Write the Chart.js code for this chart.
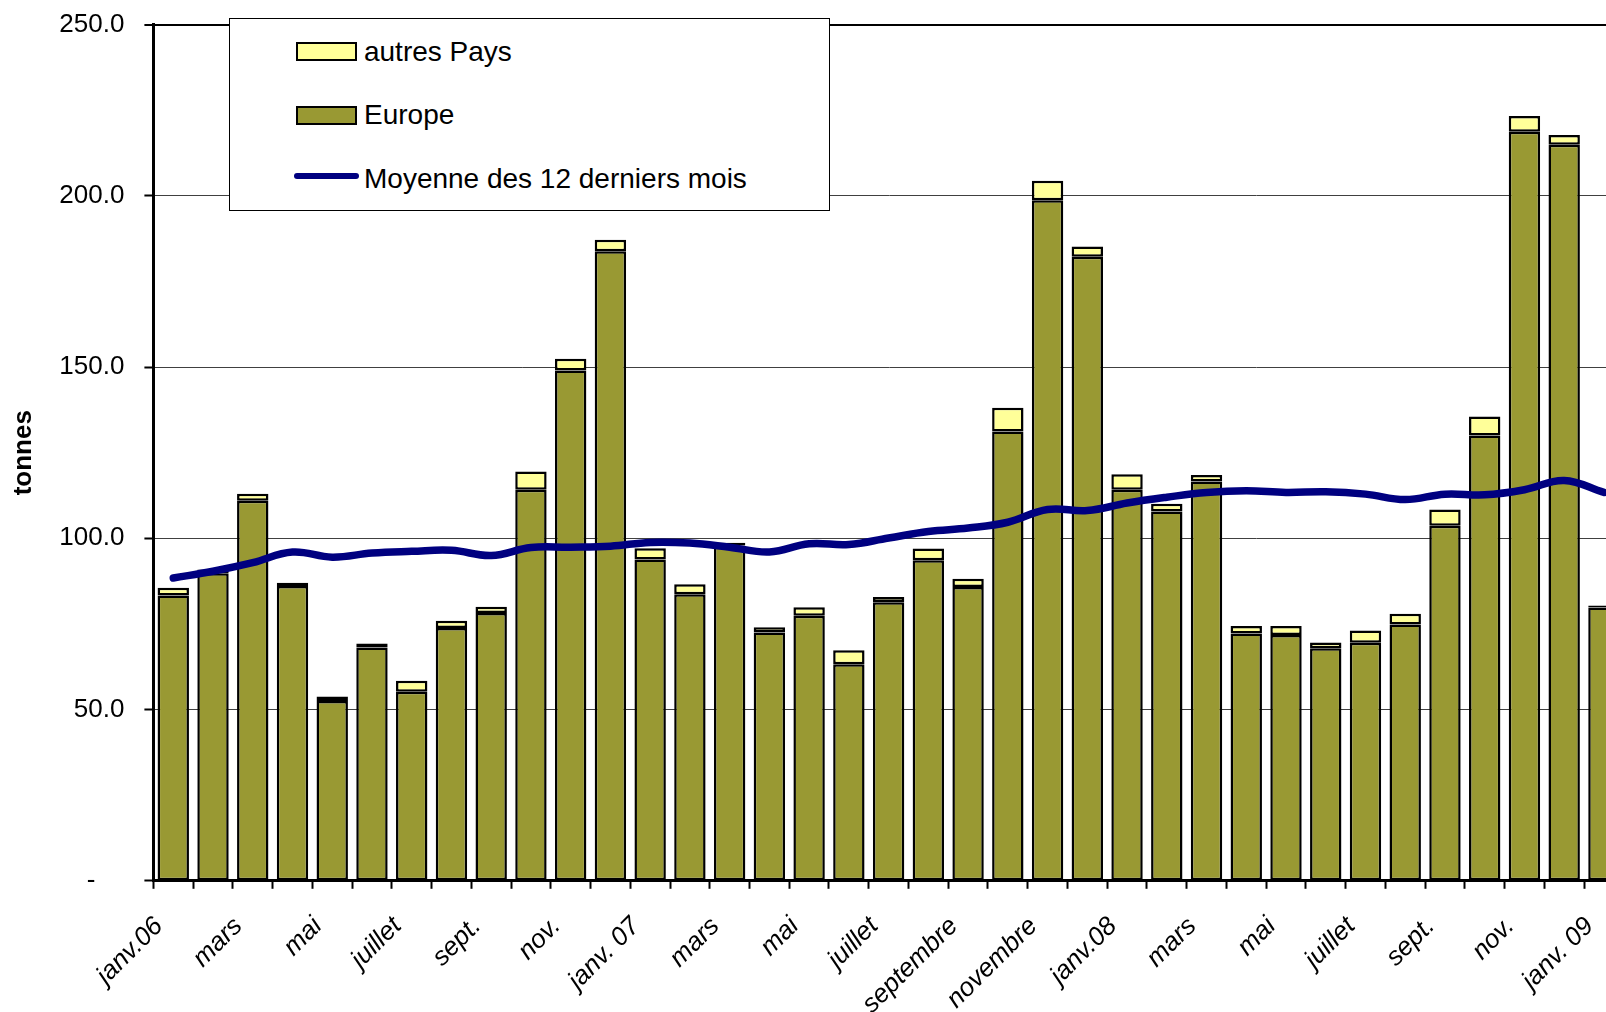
<!DOCTYPE html>
<html>
<head>
<meta charset="utf-8">
<script src="https://cdn.jsdelivr.net/npm/chart.js@4.4.0/dist/chart.umd.min.js"></script>
<style>
  body { margin: 0; background: #fff; overflow: hidden; }
  #wrap { position: relative; width: 1606px; height: 1012px; overflow: hidden; }
  #chart { position: absolute; left: 0; top: -11px; }
  #legend { position: absolute; left: 228.6px; top: 18.3px; width: 599px; height: 191px;
            border: 1px solid #000; background: #fff;
            font-family: 'Liberation Sans', Arial, sans-serif; font-size: 28px; line-height: 28px; color: #000; }
  #legend .sw { position: absolute; box-sizing: border-box; border: 2px solid #000; }
  #legend .ln { position: absolute; border-radius: 3px; }
  #legend .tx { position: absolute; white-space: pre; }
</style>
</head>
<body>
<div id="wrap">
  <canvas id="chart" width="1640" height="1023"></canvas>
  <div id="legend"></div>
</div>
<script>
// months, one label every two months
var months = ['janv.06', '', 'mars', '', 'mai', '', 'juillet', '', 'sept.', '', 'nov.', '',
              'janv. 07', '', 'mars', '', 'mai', '', 'juillet', '', 'septembre', '', 'novembre', '',
              'janv.08', '', 'mars', '', 'mai', '', 'juillet', '', 'sept.', '', 'nov.', '',
              'janv. 09'];

var europe = [83.3, 89.8, 111.0, 86.1, 52.5, 68.1, 55.2, 73.8, 78.2, 114.2, 149.0, 183.8,
              93.8, 83.7, 97.9, 72.5, 77.4, 63.2, 81.3, 93.6, 85.8, 131.2, 198.7, 182.2,
              114.2, 107.8, 116.6, 72.2, 71.8, 67.9, 69.5, 74.8, 103.7, 130.0, 218.7, 214.9,
              79.8];

var autresPays = [2.3, 1.1, 2.0, 0.9, 1.3, 1.2, 3.2, 2.1, 1.8, 5.3, 3.4, 3.4,
                  3.3, 2.9, 0.8, 1.5, 2.5, 4.1, 1.6, 3.4, 2.4, 6.9, 5.7, 3.0,
                  4.5, 2.3, 1.9, 2.2, 2.6, 1.7, 3.6, 3.2, 4.7, 5.6, 4.6, 2.9,
                  0.6];

var moyenne12 = [88.4, 90.4, 92.9, 96.0, 94.5, 95.7, 96.2, 96.5, 95.0, 97.3, 97.4, 97.7,
                 98.8, 98.6, 97.4, 96.0, 98.4, 98.2, 100.1, 102.0, 103.0, 104.7, 108.4, 108.1,
                 110.3, 112.0, 113.4, 113.9, 113.4, 113.6, 112.9, 111.3, 112.9, 112.7, 114.2, 116.9,
                 113.4];

var yTicks = [0, 50, 100, 150, 200, 250];

Chart.defaults.font.family = "'Liberation Sans', Arial, sans-serif";
Chart.defaults.color = '#000';

var ctx = document.getElementById('chart').getContext('2d');
var chart = new Chart(ctx, {
    type: 'bar',
    data: {
        labels: months,
        datasets: [
            {
                type: 'line',
                label: 'Moyenne des 12 derniers mois',
                data: moyenne12,
                borderColor: '#000080',
                borderWidth: 7.5,
                pointRadius: 0,
                tension: 0.4,
                borderCapStyle: 'round',
                borderJoinStyle: 'round',
                order: 0
            },
            {
                label: 'Europe',
                data: europe,
                backgroundColor: '#999933',
                borderColor: '#000',
                borderWidth: 2.5,
                borderSkipped: false,
                barPercentage: 0.79,
                categoryPercentage: 1,
                order: 1
            },
            {
                label: ' autres Pays',
                data: autresPays,
                backgroundColor: '#FFFF99',
                borderColor: '#000',
                borderWidth: 2.5,
                borderSkipped: false,
                barPercentage: 0.79,
                categoryPercentage: 1,
                order: 1
            }
        ]
    },
    options: {
        responsive: false,
        animation: false,
        layout: { padding: { top: 12, right: 16.2, left: 0, bottom: 0 } },
        plugins: { legend: { display: false }, tooltip: { enabled: false } },
        scales: {
            x: {
                stacked: true,
                offset: true,
                grid: { offset: true, drawOnChartArea: false, drawTicks: true, tickLength: 8,
                        color: '#000', tickColor: '#000', tickWidth: 2 },
                border: { display: true, color: '#000', width: 3 },
                ticks: { autoSkip: false, maxRotation: 45, minRotation: 45, padding: 8,
                         font: { size: 26, style: 'italic' },
                         callback: function (v, i) { return months[i] ? months[i] + '\u2002 ' : ''; } },
                afterFit: function (s) { s.height = 131.2; }
            },
            y: {
                stacked: true,
                min: 0,
                max: 250,
                afterBuildTicks: function (s) { s.ticks = yTicks.map(function (v) { return { value: v }; }); },
                ticks: {
                    padding: 20,
                    font: { size: 26 },
                    callback: function (v) { return v === 0 ? '-    ' : v.toFixed(1); }
                },
                grid: {
                    color: function (c) { return c.tick && c.tick.value === 250 ? '#000' : '#404040'; },
                    lineWidth: function (c) { return c.tick && c.tick.value === 250 ? 2 : 1; },
                    tickLength: 9,
                    tickColor: '#000',
                    tickWidth: 2
                },
                border: { display: true, color: '#000', width: 3 },
                title: { display: true, text: 'tonnes', font: { size: 26, weight: 'bold' },
                         padding: { top: 8, bottom: 0 } },
                afterFit: function (s) { s.width = 153.4; }
            }
        }
    }
});

// legend box, in the order of the original
function showLegend() {
    var ds = chart.data.datasets;
    var items = [
        { d: ds[2], kind: 'box', top: 22.4, text: 18.4 },
        { d: ds[1], kind: 'box', top: 86.7, text: 81.7 },
        { d: ds[0], kind: 'line', top: 153.9, text: 145.7 }
    ];
    var html = '';
    for (var i = 0; i < items.length; i++) {
        var it = items[i];
        if (it.kind == 'box') {
            html += '<div class="sw" style="left:66.4px;top:' + it.top + 'px;width:60.7px;height:19.3px;background:' + it.d.backgroundColor + '"></div>';
        } else {
            html += '<div class="ln" style="left:64.4px;top:' + it.top + 'px;width:65px;height:6px;background:' + it.d.borderColor + '"></div>';
        }
        var left = it.d.label.charAt(0) == ' ' ? 126.6 : 134.4;
        html += '<div class="tx" style="left:' + left + 'px;top:' + it.text + 'px">' + it.d.label + '</div>';
    }
    document.getElementById('legend').innerHTML = html;
}
showLegend();
</script>
</body>
</html>
